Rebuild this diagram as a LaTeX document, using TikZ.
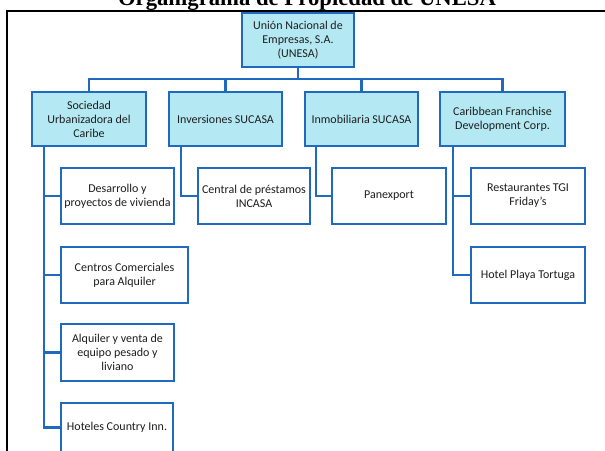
\documentclass[tikz,border=0pt]{standalone}
\usepackage{fontspec}
\setmainfont{Carlito}
\newfontfamily\titlefont{Liberation Serif}
\definecolor{boxblue}{HTML}{1F69BF}
\definecolor{boxfill}{HTML}{B4E9F3}
\definecolor{txt}{HTML}{1E1E1E}
\begin{document}
\begin{tikzpicture}[x=1pt,y=-1pt,
  orgbox/.style={draw=boxblue, line width=2.4pt, fill=white, inner sep=0pt,
    align=center, text=txt, font=\fontsize{12}{14}\selectfont},
  headbox/.style={orgbox, fill=boxfill},
  link/.style={draw=boxblue, line width=2.4pt}]
\useasboundingbox (0,0) rectangle (605,450);
% frame and title
\draw[line width=2pt, black] (7,460) -- (7,11) -- (615,11);
\node[anchor=base, font=\titlefont\bfseries\fontsize{22.7}{26}\selectfont] (title) at (307,5) {Organigrama de Propiedad de UNESA};
% level 0 and 1
\node[headbox, minimum width=112pt, minimum height=54pt] (top) at (298,40) {Unión Nacional de\\Empresas, S.A.\\(UNESA)};
\node[headbox, minimum width=114pt, minimum height=54pt] (soc) at (89,119) {Sociedad\\Urbanizadora del\\Caribe};
\node[headbox, minimum width=113pt, minimum height=54pt] (inv) at (225.5,119) {Inversiones SUCASA};
\node[headbox, minimum width=113pt, minimum height=54pt] (inm) at (361.5,119) {Inmobiliaria SUCASA};
\node[headbox, minimum width=125pt, minimum height=54pt] (car) at (502.5,119) {Caribbean Franchise\\Development Corp.};
% level 2
\node[orgbox, minimum width=113pt, minimum height=56pt] (des) at (117.5,196) {Desarrollo y\\proyectos de vivienda};
\node[orgbox, minimum width=127pt, minimum height=56pt] (cco) at (124.5,275) {Centros Comerciales\\para Alquiler};
\node[orgbox, minimum width=113pt, minimum height=57pt] (alq) at (117.5,352.5) {Alquiler y venta de\\equipo pesado y\\liviano};
\node[orgbox, minimum width=112pt, minimum height=49pt] (hci) at (117,427.5) {Hoteles Country Inn.};
\node[orgbox, minimum width=112pt, minimum height=56pt] (cen) at (254,196) {Central de préstamos\\INCASA};
\node[orgbox, minimum width=114pt, minimum height=56pt] (pan) at (389,196) {Panexport};
\node[orgbox, minimum width=114pt, minimum height=56pt] (res) at (528,196) {Restaurantes TGI\\Friday's};
\node[orgbox, minimum width=114pt, minimum height=56pt] (hot) at (528,275) {Hotel Playa Tortuga};
% helper coordinates
\coordinate (bus) at (0,79);
\coordinate (t1) at (44,0);
\coordinate (t2) at (181,0);
\coordinate (t3) at (316,0);
\coordinate (t4) at (453,0);
% top connectors
\draw[link] (top.south) -- (top.south |- bus) -| (soc.north);
\draw[link] (top.south) -- (top.south |- bus) -| (inv.north);
\draw[link] (top.south) -- (top.south |- bus) -| (inm.north);
\draw[link] (top.south) -- (top.south |- bus) -| (car.north);
% trunks
\draw[link] (soc.south -| t1) |- (des.west);
\draw[link] (soc.south -| t1) |- (cco.west);
\draw[link] (soc.south -| t1) |- (alq.west);
\draw[link] (soc.south -| t1) |- (hci.west);
\draw[link] (inv.south -| t2) |- (cen.west);
\draw[link] (inm.south -| t3) |- (pan.west);
\draw[link] (car.south -| t4) |- (res.west);
\draw[link] (car.south -| t4) |- (hot.west);
\end{tikzpicture}
\end{document}
